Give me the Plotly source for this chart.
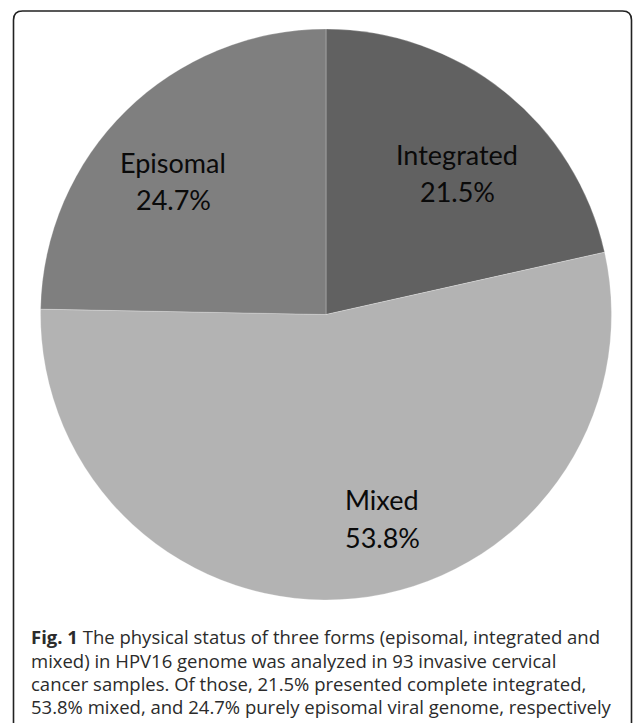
import plotly.graph_objects as go

# HPV16 physical status in 93 invasive cervical cancer samples (%)
categories = ["Integrated", "Mixed", "Episomal"]
shares = [21.5, 53.8, 24.7]
slice_colors = ["#616161", "#b3b3b3", "#7f7f7f"]

caption_lines = [
    "<b>Fig. 1</b> The physical status of three forms (episomal, integrated and",
    "mixed) in HPV16 genome was analyzed in 93 invasive cervical",
    "cancer samples. Of those, 21.5% presented complete integrated,",
    "53.8% mixed, and 24.7% purely episomal viral genome, respectively",
]

W, H = 633, 723


def px(x):
    return x / W


def py(y):
    return 1 - y / H


fig = go.Figure()
fig.add_trace(go.Pie(
    labels=categories,
    values=shares,
    sort=False,
    direction="clockwise",
    rotation=0,
    marker=dict(colors=slice_colors, line=dict(color="rgba(255,255,255,0.25)", width=1)),
    textinfo="none",
    hoverinfo="label+percent",
    showlegend=False,
    domain=dict(x=[px(40), px(612)], y=[py(600), py(29)]),
))

# slice labels: name on the first line, share on the second
label_centers = {
    "Integrated": (457, 154, 192),
    "Mixed": (382, 499, 537),
    "Episomal": (173, 162, 199),
}
label_font = dict(family="Lato", size=27, color="#0a0a0a")
annotations = []
for name, val in zip(categories, shares):
    cx, y1, y2 = label_centers[name]
    annotations.append(dict(x=px(cx), y=py(y1), xref="paper", yref="paper",
                            text=name, showarrow=False, xanchor="center",
                            yanchor="middle", font=label_font))
    annotations.append(dict(x=px(cx), y=py(y2), xref="paper", yref="paper",
                            text=f"{val:.1f}%", showarrow=False, xanchor="center",
                            yanchor="middle", font=label_font))

# figure caption, one annotation per line
caption_y = [636, 660, 683, 706]
for line, yy in zip(caption_lines, caption_y):
    annotations.append(dict(x=px(29), y=py(yy), xref="paper", yref="paper",
                            text=line, showarrow=False, xanchor="left",
                            yanchor="middle",
                            font=dict(family="Open Sans", size=18.5, color="#2b2b2b")))

# rounded frame around figure and caption
x0, y0, x1, y1, r = 13.5, 11, 631.5, 740, 9
frame = (f"M {px(x0)},{py(y0 + r)} L {px(x0)},{py(y1)} "
         f"M {px(x0)},{py(y0 + r)} Q {px(x0)},{py(y0)} {px(x0 + r)},{py(y0)} "
         f"L {px(x1 - r)},{py(y0)} Q {px(x1)},{py(y0)} {px(x1)},{py(y0 + r)} "
         f"L {px(x1)},{py(y1)}")

fig.update_layout(
    width=W,
    height=H,
    margin=dict(l=0, r=0, t=0, b=0),
    paper_bgcolor="white",
    plot_bgcolor="white",
    annotations=annotations,
    shapes=[dict(type="path", path=frame, xref="paper", yref="paper",
                 line=dict(color="#222222", width=1.6))],
)

fig.write_html("out.html")
